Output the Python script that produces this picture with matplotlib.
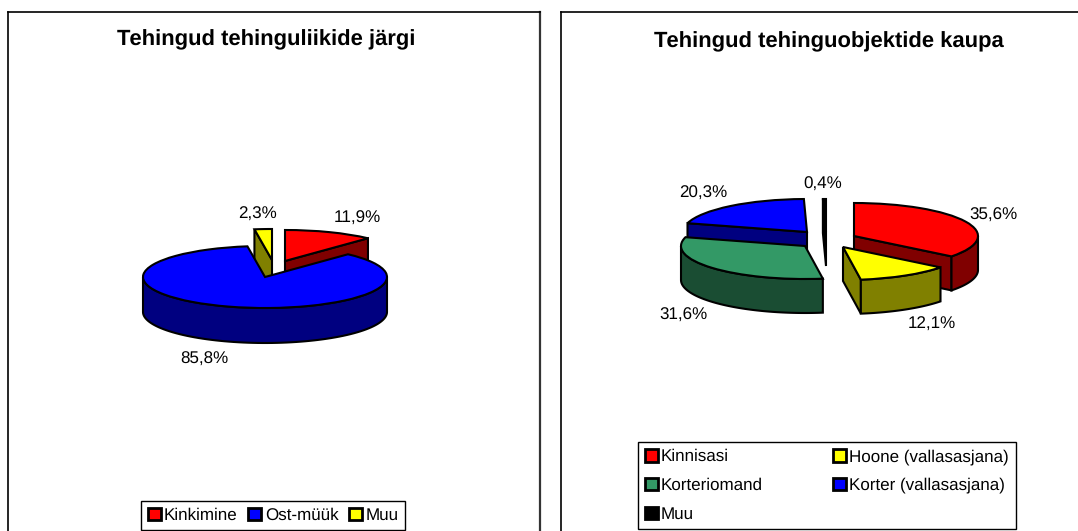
import numpy as np
import matplotlib
matplotlib.use("Agg")
import matplotlib.pyplot as plt
from matplotlib.patches import Polygon

plt.rcParams['font.family'] = ['Liberation Sans', 'DejaVu Sans']
plt.rcParams['text.hinting'] = 'no_hinting'
plt.rcParams['text.hinting_factor'] = 1

titleLeft = "Tehingud tehinguliikide järgi"
namesLeft = ["Kinkimine", "Ost-müük", "Muu"]
valuesLeft = [11.9, 85.8, 2.3]
colorsLeft = ["#ff0000", "#0000ff", "#ffff00"]

titleRight = "Tehingud tehinguobjektide kaupa"
namesRight = ["Kinnisasi", "Hoone (vallasasjana)", "Korteriomand", "Korter (vallasasjana)", "Muu"]
valuesRight = [35.6, 12.1, 31.6, 20.3, 0.4]
colorsRight = ["#ff0000", "#ffff00", "#339966", "#0000ff", "#000000"]

W, H = 1078, 531
fig = plt.figure(figsize=(W / 100, H / 100), dpi=100, facecolor="white")
LW = 1.5
FS = 12.0


def fx(x):
    return x / W


def fy(y):
    return 1 - y / H


def darker(col):
    return tuple(0.5 * c for c in matplotlib.colors.to_rgb(col))


# panel in pixels, apex of every slice in pixels, a/b = ellipse radii
def pie3d(panel, title, titleX, titleY, values, colors, apex, a, b, depth, labelPos):
    l, t, r, bot = panel
    ax = fig.add_axes([fx(l), fy(bot), (r - l) / W, (bot - t) / H])
    wedges, _ = ax.pie(values, colors=colors, startangle=90, counterclock=False,
                       wedgeprops=dict(edgecolor="black", linewidth=LW))
    ax.set_aspect("auto")
    ax.set_xlim(l / a, r / a)
    ax.set_ylim(-bot / b, -t / b)
    ax.set_frame_on(True)
    for s in ax.spines.values():
        s.set_linewidth(1.2)
        s.set_color("black")
    d = depth / b
    for w, col, (px, py) in zip(wedges, colors, apex):
        cx, cy = px / a, -py / b
        w.set_center((cx, cy))
        z = 2 + py / 1000
        w.set_zorder(z + 0.0005)
        side = darker(col)
        # cut faces, only the ones turned to the viewer
        for th, nrm in ((w.theta1, w.theta1 - 90), (w.theta2, w.theta2 + 90)):
            if np.sin(np.radians(nrm)) > -1e-6:
                continue
            ex, ey = cx + np.cos(np.radians(th)), cy + np.sin(np.radians(th))
            ax.add_patch(Polygon([(cx, cy), (ex, ey), (ex, ey - d), (cx, cy - d)], closed=True,
                                 facecolor=side, edgecolor="black", linewidth=LW, zorder=z))
        # front rim
        lo, hi = max(w.theta1, -180), min(w.theta2, 0)
        if hi > lo:
            th = np.radians(np.linspace(lo, hi, 80))
            xs, ys = cx + np.cos(th), cy + np.sin(th)
            pts = np.r_[np.c_[xs, ys], np.c_[xs[::-1], ys[::-1] - d]]
            ax.add_patch(Polygon(pts, closed=True, facecolor=side, edgecolor="black",
                                 linewidth=LW, zorder=z + 0.0001))
    fig.text(fx(titleX), fy(titleY), title, ha="center", va="center",
             fontsize=15.6, fontweight="bold", color="black")
    for v, (px, py) in zip(values, labelPos):
        fig.text(fx(px), fy(py), f"{v:.1f}%".replace(".", ","), ha="center", va="center",
                 fontsize=FS, color="black")
    return ax, wedges


axL, wedgesL = pie3d((8, 12, 540, 560), titleLeft, 266, 40, valuesLeft, colorsLeft,
                     [(285, 261), (265, 277), (272, 260)], 122, 31, 35,
                     [(357, 218), (204, 359), (258, 214)])
axR, wedgesR = pie3d((561, 12, 1100, 560), titleRight, 829, 42, valuesRight, colorsRight,
                     [(854, 236), (843, 247), (805, 246), (807, 232), (826, 232)], 124, 33, 34,
                     [(993, 215), (932, 324), (683, 315), (703, 193), (823, 184)])
axL.spines["right"].set_color("#333333")
axL.spines["right"].set_linewidth(1.6)

orderR = [0, 2, 4, 1, 3]
legL = fig.legend(wedgesL, namesLeft, loc="lower left", bbox_to_anchor=(fx(141), fy(530)), ncol=3,
                  fontsize=FS, frameon=True, fancybox=False, framealpha=1, edgecolor="black",
                  handlelength=0.78, handleheight=0.78, handletextpad=0.2, columnspacing=0.64,
                  borderpad=0.4, borderaxespad=0)
legR = fig.legend([wedgesR[i] for i in orderR], [namesRight[i] for i in orderR], loc="lower left",
                  bbox_to_anchor=(fx(638), fy(529)), ncol=2,
                  fontsize=FS, frameon=True, fancybox=False, framealpha=1, edgecolor="black",
                  handlelength=0.78, handleheight=0.78, handletextpad=0.2, columnspacing=4.2,
                  labelspacing=0.78, borderpad=0.4, borderaxespad=0)
for leg in (legL, legR):
    leg.get_frame().set_linewidth(1.0)
    for h in leg.legend_handles:
        h.set_linewidth(2.0)

fig.savefig("out.png", dpi=100)
